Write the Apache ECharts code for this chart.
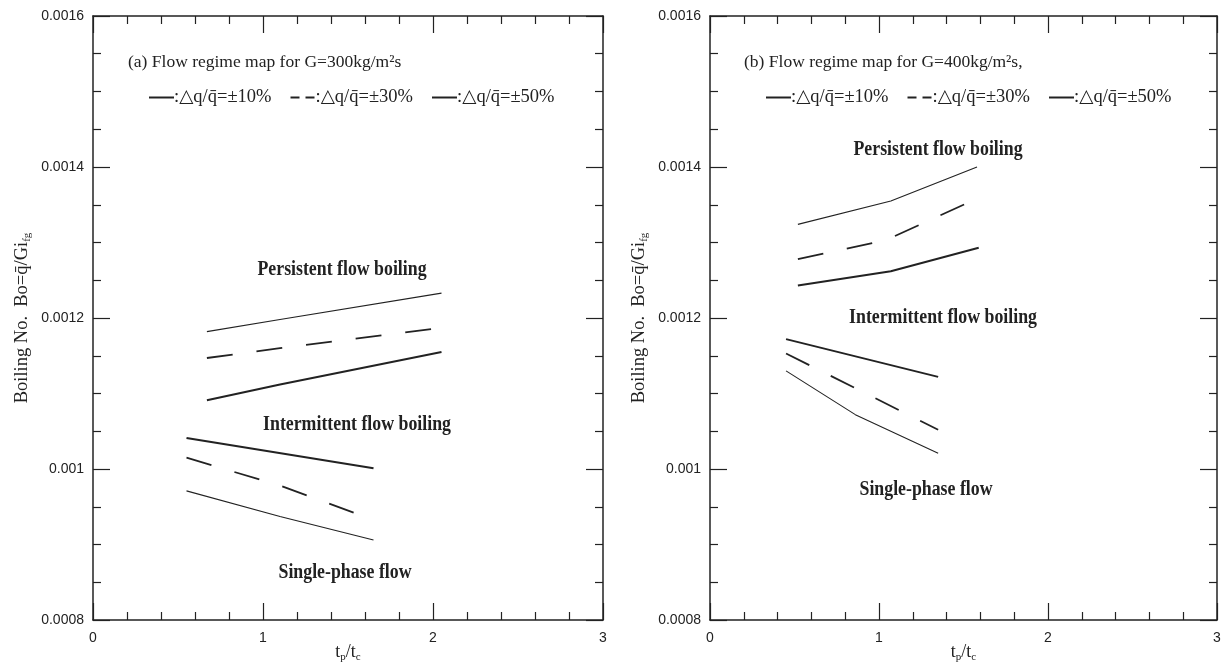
<!DOCTYPE html>
<html>
<head>
<meta charset="utf-8">
<script src="https://cdn.jsdelivr.net/npm/echarts@6/dist/echarts.min.js"></script>
<style>
  html, body { margin: 0; padding: 0; background: #fff; }
  #regimeMap { width: 1221px; height: 667px; }
</style>
</head>
<body>
<div id="regimeMap"></div>
<script>
// 坐标轴刻度
const xTicks = [0, 1, 2, 3];
const yTicks = [0.0008, 0.001, 0.0012, 0.0014, 0.0016];

// (a) G=300kg/m2s
const aUpper10X = [0.67, 1.1, 2.05];
const aUpper10Y = [0.001091, 0.001112, 0.001155];
const aUpper30X = [0.67, 1.1, 2.05];
const aUpper30Y = [0.001147, 0.001160, 0.001187];
const aUpper50X = [0.67, 1.1, 2.05];
const aUpper50Y = [0.001182, 0.001198, 0.001233];
const aLower10X = [0.55, 1.65];
const aLower10Y = [0.001041, 0.001001];
const aLower30X = [0.55, 1.1, 1.56];
const aLower30Y = [0.001015, 0.000978, 0.000940];
const aLower50X = [0.55, 1.1, 1.65];
const aLower50Y = [0.000971, 0.000937, 0.000906];

// (b) G=400kg/m2s
const bUpper10X = [0.52, 1.07, 1.59];
const bUpper10Y = [0.001243, 0.001262, 0.001293];
const bUpper30X = [0.52, 1.04, 1.53];
const bUpper30Y = [0.001278, 0.001303, 0.001353];
const bUpper50X = [0.52, 1.07, 1.58];
const bUpper50Y = [0.001324, 0.001355, 0.001400];
const bLower10X = [0.45, 1.35];
const bLower10Y = [0.001172, 0.001122];
const bLower30X = [0.45, 1.35];
const bLower30Y = [0.001153, 0.001052];
const bLower50X = [0.45, 0.86, 1.35];
const bLower50Y = [0.001130, 0.001072, 0.001021];

const names = [":\u25B3q/q\u0304=\u00B110%", ":\u25B3q/q\u0304=\u00B130%", ":\u25B3q/q\u0304=\u00B150%"];

const serif = "'Liberation Serif', 'DejaVu Serif', serif";
const sans = "'Liberation Sans', Arial, sans-serif";
const ink = "#222";

function zip(xs, ys) {
  return xs.map((x, i) => [x, ys[i]]);
}

// 线型：±10% 粗实线, ±30% 虚线, ±50% 细实线
const lineStyles = [
  { width: 2, type: "solid" },
  { width: 1.8, type: [26, 24] },
  { width: 1.1, type: "solid" },
];

function lineSeries(k, xs, ys, grid) {
  return {
    name: names[k],
    type: "line",
    xAxisIndex: grid * 2,
    yAxisIndex: grid * 2,
    symbol: "none",
    silent: true,
    color: ink,
    lineStyle: Object.assign({ color: ink }, lineStyles[k]),
    data: zip(xs, ys),
  };
}

function xAxisFor(grid, top) {
  return {
    type: "value",
    gridIndex: grid,
    position: top ? "top" : "bottom",
    min: xTicks[0],
    max: xTicks[xTicks.length - 1],
    interval: 1,
    name: top ? "" : "{t|t}{s|p}{t|/t}{s|c}",
    nameLocation: "middle",
    nameGap: 22,
    nameMoveOverlap: false,
    nameTextStyle: {
      color: ink,
      rich: {
        t: { fontFamily: serif, fontSize: 18, color: ink },
        s: { fontFamily: serif, fontSize: 11, color: ink, padding: [10, 0, 0, 0] },
      },
    },
    axisLine: { show: true, onZero: false, lineStyle: { color: ink, width: 1.5 } },
    axisTick: { show: true, inside: true, length: 17, lineStyle: { color: ink, width: 1.2 } },
    minorTick: { show: true, splitNumber: 5, length: 8, lineStyle: { color: ink, width: 1.2 } },
    axisLabel: {
      show: !top,
      margin: 11,
      color: ink,
      fontFamily: sans,
      fontSize: 14,
    },
    splitLine: { show: false },
    minorSplitLine: { show: false },
  };
}

function yAxisFor(grid, right) {
  return {
    type: "value",
    gridIndex: grid,
    position: right ? "right" : "left",
    min: yTicks[0],
    max: yTicks[yTicks.length - 1],
    interval: 0.0002,
    name: right ? "" : "{n|Boiling No.  Bo=q\u0304/Gi}{s|fg}",
    nameLocation: "middle",
    nameRotate: 90,
    nameGap: 60,
    nameMoveOverlap: false,
    nameTextStyle: {
      color: ink,
      rich: {
        n: { fontFamily: serif, fontSize: 18.5, color: ink },
        s: { fontFamily: serif, fontSize: 11, color: ink, padding: [10, 0, 0, 0] },
      },
    },
    axisLine: { show: true, onZero: false, lineStyle: { color: ink, width: 1.5 } },
    axisTick: { show: true, inside: true, length: 17, lineStyle: { color: ink, width: 1.2 } },
    minorTick: { show: true, splitNumber: 4, length: 8, lineStyle: { color: ink, width: 1.2 } },
    axisLabel: {
      show: !right,
      margin: 9,
      color: ink,
      fontFamily: sans,
      fontSize: 14,
      formatter: (v) => String(parseFloat(v.toFixed(6))),
    },
    splitLine: { show: false },
    minorSplitLine: { show: false },
  };
}

function legendFor(left) {
  return {
    left: left,
    top: 83,
    itemWidth: 25,
    itemHeight: 14,
    itemGap: 18,
    selectedMode: false,
    itemStyle: { opacity: 0 },
    textStyle: { fontFamily: serif, fontSize: 18.5, color: ink, padding: [0, 0, 0, -5] },
    data: [
      { name: names[0] },
      { name: names[1], lineStyle: { type: [9, 6] } },
      { name: names[2] },
    ],
  };
}

function note(text, x, y, bold, scaleX) {
  return {
    type: "text",
    x: x,
    y: y,
    scaleX: scaleX || 1,
    silent: true,
    style: {
      text: text,
      fill: ink,
      font: (bold ? "bold 20px " : "17.5px ") + serif,
      align: bold ? "center" : "left",
      textAlign: bold ? "center" : "left",
      verticalAlign: "middle",
      textVerticalAlign: "middle",
    },
  };
}

const chart = echarts.init(document.getElementById("regimeMap"), null, { renderer: "canvas" });

const option = {
  backgroundColor: "#fff",
  animation: false,
  grid: [
    { left: 93, top: 16, width: 510, height: 604, outerBoundsMode: "none", containLabel: false },
    { left: 710, top: 16, width: 507, height: 604, outerBoundsMode: "none", containLabel: false },
  ],
  xAxis: [xAxisFor(0, false), xAxisFor(0, true), xAxisFor(1, false), xAxisFor(1, true)],
  yAxis: [yAxisFor(0, false), yAxisFor(0, true), yAxisFor(1, false), yAxisFor(1, true)],
  legend: [legendFor(143), legendFor(760)],
  graphic: [
    note("(a) Flow regime map for G=300kg/m\u00B2s", 128, 62, false),
    note("(b) Flow regime map for G=400kg/m\u00B2s,", 744, 62, false),
    note("Persistent flow boiling", 342, 270, true, 0.89),
    note("Intermittent flow boiling", 357, 425, true, 0.89),
    note("Single-phase flow", 345, 573, true, 0.89),
    note("Persistent flow boiling", 938, 150, true, 0.89),
    note("Intermittent flow boiling", 943, 318, true, 0.89),
    note("Single-phase flow", 926, 490, true, 0.89),
  ],
  series: [
    lineSeries(0, aUpper10X, aUpper10Y, 0),
    lineSeries(1, aUpper30X, aUpper30Y, 0),
    lineSeries(2, aUpper50X, aUpper50Y, 0),
    lineSeries(0, aLower10X, aLower10Y, 0),
    lineSeries(1, aLower30X, aLower30Y, 0),
    lineSeries(2, aLower50X, aLower50Y, 0),
    lineSeries(0, bUpper10X, bUpper10Y, 1),
    lineSeries(1, bUpper30X, bUpper30Y, 1),
    lineSeries(2, bUpper50X, bUpper50Y, 1),
    lineSeries(0, bLower10X, bLower10Y, 1),
    lineSeries(1, bLower30X, bLower30Y, 1),
    lineSeries(2, bLower50X, bLower50Y, 1),
  ],
};

chart.setOption(option);
window.addEventListener("resize", () => chart.resize(), true);
</script>
</body>
</html>
